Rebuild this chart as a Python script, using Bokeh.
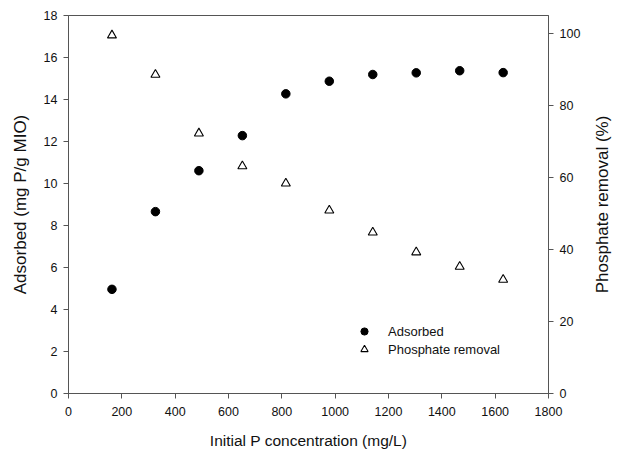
import math
from bokeh.plotting import figure
from bokeh.layouts import row
from bokeh.models import LinearAxis, Range1d, FixedTicker, Legend, LegendItem, ColumnDataSource, Title
from bokeh.embed import file_html
from bokeh.resources import INLINE

# Data
initial_p = [163, 326, 489, 652, 815, 978, 1141, 1304, 1467, 1630]
adsorbed = [4.96, 8.66, 10.61, 12.28, 14.27, 14.87, 15.19, 15.27, 15.37, 15.28]
removal = [99.4, 88.5, 72.2, 63.1, 58.3, 50.8, 44.7, 39.2, 35.2, 31.6]

x_ticks = [0, 200, 400, 600, 800, 1000, 1200, 1400, 1600, 1800]
left_ticks = [0, 2, 4, 6, 8, 10, 12, 14, 16, 18]
right_ticks = [0, 20, 40, 60, 80, 100]

FONT = "Liberation Sans"
AXIS_COLOR = "#555555"
TEXT_COLOR = "#111111"

src = ColumnDataSource(dict(x=initial_p, ads=adsorbed, rem=removal))

p = figure(width=590, height=458, output_backend="svg", toolbar_location=None,
           x_range=Range1d(0, 1800), y_range=Range1d(0, 18))
p.min_border_left = 68
p.min_border_right = 42
p.min_border_top = 15
p.min_border_bottom = 65
p.grid.visible = False
p.outline_line_color = AXIS_COLOR
p.outline_line_width = 1
p.background_fill_color = "white"
p.border_fill_color = "white"

p.extra_y_ranges = {"right": Range1d(0, 104.9)}
right_axis = LinearAxis(y_range_name="right")
p.add_layout(right_axis, "right")

for ax in [p.xaxis[0], p.yaxis[0], right_axis]:
    ax.axis_line_color = AXIS_COLOR
    ax.major_tick_line_color = AXIS_COLOR
    ax.major_tick_out = 5
    ax.major_tick_in = 0
    ax.minor_tick_line_color = None
    ax.major_label_text_font = FONT
    ax.major_label_text_font_size = "12.5px"
    ax.major_label_text_color = TEXT_COLOR
    ax.axis_label_text_font = FONT
    ax.axis_label_text_font_size = "15.5px"
    ax.axis_label_text_font_style = "normal"
    ax.axis_label_text_color = TEXT_COLOR
    ax.major_label_standoff = 6

p.yaxis[0].axis_label_text_font_size = "17px"

p.xaxis[0].ticker = FixedTicker(ticks=x_ticks)
p.yaxis[0].ticker = FixedTicker(ticks=left_ticks)
right_axis.ticker = FixedTicker(ticks=right_ticks)

p.xaxis[0].axis_label = "Initial P concentration (mg/L)"
p.yaxis[0].axis_label = "Adsorbed (mg P/g MIO)"
p.xaxis[0].major_label_standoff = 8
p.xaxis[0].axis_label_standoff = 13
p.yaxis[0].axis_label_standoff = 11

r1 = p.scatter("x", "ads", source=src, marker="circle", size=8.5,
               fill_color="black", line_color="black")
r2 = p.scatter("x", "rem", source=src, marker="triangle", size=9,
               fill_color="white", line_color="black", line_width=1.1,
               y_range_name="right")

legend = Legend(items=[LegendItem(label="Adsorbed", renderers=[r1]),
                       LegendItem(label="Phosphate removal", renderers=[r2])],
                location=(286, 35))
legend.border_line_color = None
legend.background_fill_alpha = 0
legend.padding = 0
legend.margin = 0
legend.spacing = 0
legend.glyph_width = 20
legend.glyph_height = 18
legend.label_height = 18
legend.label_standoff = 14
legend.label_text_font = FONT
legend.label_text_font_size = "13px"
legend.label_text_color = TEXT_COLOR
p.add_layout(legend, "center")

# narrow strip holding the right-hand axis title (reads bottom-to-top,
# centred on the same vertical span as the plot frame)
q = figure(width=28, height=458, output_backend="svg", toolbar_location=None,
           x_axis_type=None, y_axis_type=None,
           x_range=Range1d(0, 1), y_range=Range1d(0, 1))
q.min_border_left = 0
q.min_border_right = 0
q.min_border_top = 15
q.min_border_bottom = 65
q.grid.visible = False
q.outline_line_color = None
q.background_fill_color = "white"
q.border_fill_color = "white"
q.add_layout(Title(text="Phosphate removal (%)", align="center",
                   standoff=0, offset=0,
                   text_font=FONT, text_font_size="17px",
                   text_font_style="normal", text_color=TEXT_COLOR), "left")

layout = row(p, q, spacing=0)
open("out.html", "w").write(file_html(layout, INLINE))
